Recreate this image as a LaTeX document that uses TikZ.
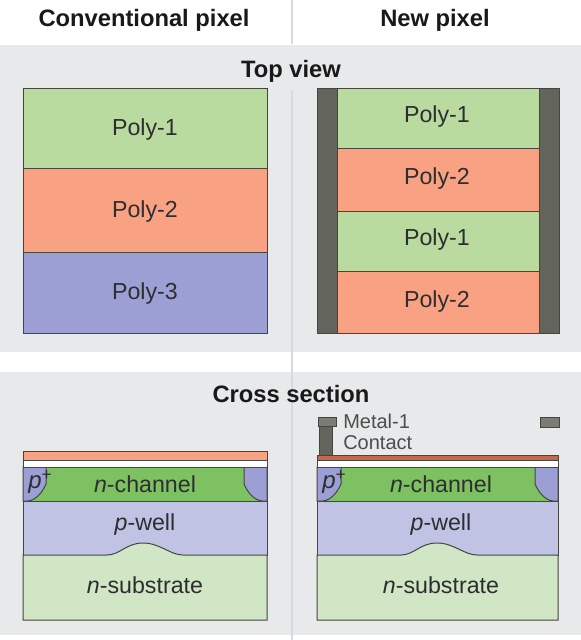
\documentclass[tikz,border=0pt]{standalone}
\usepackage{fontspec}
\setmainfont{Liberation Sans}
\definecolor{bgGray}{HTML}{E8E9EA}
\definecolor{divLine}{HTML}{D8D9DC}
\definecolor{polyGreen}{HTML}{B9DBA0}
\definecolor{polyOrange}{HTML}{F9A283}
\definecolor{polyBlue}{HTML}{9C9FD4}
\definecolor{metalDark}{HTML}{63655C}
\definecolor{metalGray}{HTML}{7B7D75}
\definecolor{brownOr}{HTML}{C4684C}
\definecolor{chanGreen}{HTML}{7DC163}
\definecolor{wellBlue}{HTML}{C0C3E4}
\definecolor{subGreen}{HTML}{D0E6C4}
\definecolor{edgeCol}{HTML}{45463F}
\definecolor{txtCol}{HTML}{2E2E30}
\tikzset{
  layer/.style={draw=edgeCol,line width=0.75pt},
  hdr/.style={font=\fontsize{17.8}{20}\selectfont\bfseries,text=black!90,inner sep=0pt,anchor=center},
  lbl/.style={font=\fontsize{17.4}{20}\selectfont,text=txtCol,inner sep=0pt,anchor=center},
  pplus/.style={font=\fontsize{18}{20}\selectfont,text=txtCol,inner sep=0pt,anchor=west},
  metallbl/.style={font=\fontsize{15}{17}\selectfont,text=black!70,inner sep=0pt,anchor=west},
  divider/.style={draw=divLine,line width=0.9pt}
}
\newcommand{\pPlus}{\textit{p}\raisebox{6pt}{\fontsize{13}{13}\selectfont +}}
\begin{document}
\begin{tikzpicture}[x=0.75pt,y=-0.75pt]
\useasboundingbox (0,0) rectangle (581,640);
\fill[white] (0,0) rectangle (581,640);
% background bands
\fill[bgGray] (0,45) rectangle (581,352);
\fill[bgGray] (0,372) rectangle (581,635);
\coordinate (dA) at (292,0);
\coordinate (dB) at (292,44);
\coordinate (dC) at (292,90);
\coordinate (dD) at (292,372);
\coordinate (dE) at (292,640);
\draw[divider] (dA) -- (dB);
\draw[divider] (dC) -- (dD);
\draw[divider] (dD) -- (dE);
% headers
\node[hdr] (hConv) at (144,20) {Conventional pixel};
\node[hdr] (hNew) at (435,20) {New pixel};
\node[hdr] (hTop) at (291,71) {Top view};
\node[hdr] (hCross) at (291,394) {Cross section};
% top view left
\draw[layer,fill=polyGreen] (23,88) rectangle (267,168);
\draw[layer,fill=polyOrange] (23,168) rectangle (267,252);
\draw[layer,fill=polyBlue] (23,252) rectangle (267,333);
\node[lbl] (tl1) at (145,129) {Poly-1};
\node[lbl] (tl2) at (145,211) {Poly-2};
\node[lbl] (tl3) at (145,293) {Poly-3};
% top view right
\draw[layer,fill=polyGreen] (337,88) rectangle (539,148);
\draw[layer,fill=polyOrange] (337,148) rectangle (539,211);
\draw[layer,fill=polyGreen] (337,211) rectangle (539,271);
\draw[layer,fill=polyOrange] (337,271) rectangle (539,333);
\draw[layer,fill=metalDark] (317,88) rectangle (337,333);
\draw[layer,fill=metalDark] (539,88) rectangle (559,333);
\node[lbl] (tr1) at (437,116) {Poly-1};
\node[lbl] (tr2) at (437,178) {Poly-2};
\node[lbl] (tr3) at (437,239) {Poly-1};
\node[lbl] (tr4) at (437,301) {Poly-2};
% cross section left
\draw[layer,fill=wellBlue] (23,501) rectangle (267,555);
\draw[layer,fill=subGreen] (23,620) -- (23,555) -- (107,555)
  .. controls (120,555) and (126,543) .. (143,543)
  .. controls (160,543) and (170,555) .. (183,555)
  -- (267,555) -- (267,620) -- cycle;
\draw[layer,fill=chanGreen] (23,467) rectangle (267,501);
\draw[layer,fill=polyBlue] (23,467) -- (46,467) -- (46,484) .. controls (42,493) and (36,500) .. (28,501) -- (23,501) -- cycle;
\draw[layer,fill=polyBlue] (267,467) -- (244,467) -- (244,484) .. controls (248,493) and (254,500) .. (262,501) -- (267,501) -- cycle;
\draw[layer,fill=white] (23,460) rectangle (267,467);
\draw[layer,fill=polyOrange] (23,451) rectangle (267,460);
\node[pplus] (lPp) at (28,482) {\pPlus};
\node[lbl] (lCh) at (145,484) {\textit{n}-channel};
\node[lbl] (lWe) at (145,524) {\textit{p}-well};
\node[lbl] (lSu) at (145,585) {\textit{n}-substrate};
% cross section right
\draw[layer,fill=wellBlue] (317,501) rectangle (558,555);
\draw[layer,fill=subGreen] (317,620) -- (317,555) -- (401,555)
  .. controls (414,555) and (420,543) .. (437,543)
  .. controls (454,543) and (464,555) .. (477,555)
  -- (558,555) -- (558,620) -- cycle;
\draw[layer,fill=chanGreen] (317,467) rectangle (558,501);
\draw[layer,fill=polyBlue] (317,467) -- (341,467) -- (341,484) .. controls (337,493) and (331,500) .. (323,501) -- (317,501) -- cycle;
\draw[layer,fill=polyBlue] (558,467) -- (535,467) -- (535,484) .. controls (539,493) and (545,500) .. (553,501) -- (558,501) -- cycle;
\draw[layer,fill=white] (317,460) rectangle (558,467);
\draw[layer,fill=brownOr] (317,455) rectangle (558,460);
\draw[layer,fill=metalDark] (319,426) rectangle (332,455);
\draw[layer,fill=metalGray] (318,417) rectangle (336,426);
\draw[layer,fill=metalGray] (540,417) rectangle (559,427);
\node[metallbl] (mLab) at (343,421) {Metal-1};
\node[metallbl] (cLab) at (343,443) {Contact};
\node[pplus] (rPp) at (322,482) {\pPlus};
\node[lbl] (rCh) at (441,484) {\textit{n}-channel};
\node[lbl] (rWe) at (441,524) {\textit{p}-well};
\node[lbl] (rSu) at (441,585) {\textit{n}-substrate};
\end{tikzpicture}
\end{document}
